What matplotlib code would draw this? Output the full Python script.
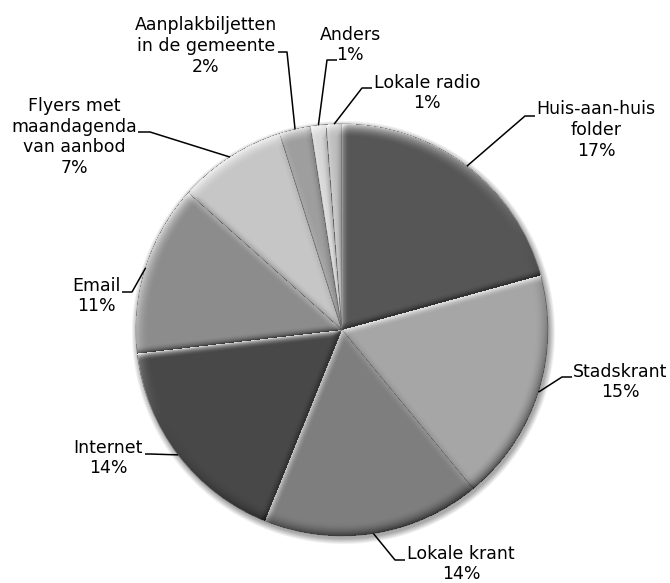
import numpy as np
import matplotlib
matplotlib.use('Agg')
import matplotlib.pyplot as plt

# --- Data ---
labels = ['Huis-aan-huis\nfolder', 'Stadskrant', 'Lokale krant', 'Internet', 'Email',
          'Flyers met\nmaandagenda\nvan aanbod', 'Aanplakbiljetten\nin de gemeente',
          'Anders', 'Lokale radio']
percentages = [17, 15, 14, 14, 11, 7, 2, 1, 1]
colors = ['#565656', '#a6a6a6', '#7e7e7e', '#484848', '#8c8c8c',
          '#c6c6c6', '#9e9e9e', '#d6d6d6', '#bdbdbd']

# --- Layout, in pixels with y measured from the top ---
W, H = 670, 583
CX, CY, R = 342, 330, 206
text_pos = [(596, 130), (620, 382), (461, 564), (108, 458), (96, 296),
            (74, 137), (206, 46), (350, 45), (427, 93)]
elbows = [((525, 116), (535, 116)), ((562, 377), (572, 377)), ((395, 560), (405, 560)),
          ((150, 454), (145, 454)), ((132, 292), (122, 292)), ((150, 132), (138, 132)),
          ((287, 52), (278, 52)), ((327, 60), (337, 60)), ((362, 88), (372, 88))]
LIGHT = np.array([-0.45, 0.89])
LIGHT = LIGHT / np.linalg.norm(LIGHT)


def fy(y):
    return H - y


fig = plt.figure(figsize=(W / 100, H / 100), dpi=100)
ax = fig.add_axes([0, 0, 1, 1])

wedges, _ = ax.pie(percentages, colors=colors, startangle=90, counterclock=False,
                   center=(CX, fy(CY)), radius=R,
                   wedgeprops=dict(edgecolor='#707070', linewidth=0.5, zorder=1))

# pixel grid for the shadow and the bevel shading
yy, xx = np.mgrid[0:H, 0:W] + 0.5
dx = xx - CX
dy = CY - yy
r = np.hypot(dx, dy)
phi = np.degrees(np.arctan2(dy, dx))

# soft grey shadow round the pie
rs = np.hypot(xx - CX - 1.5, yy - CY - 2.5)
halo = np.zeros((H, W, 4))
halo[..., :3] = 0.45
halo[..., 3] = np.where(rs > R - 4, 0.6 * np.clip(1 - (rs - R) / 6.0, 0, 1), 0)
ax.imshow(halo, extent=(0, W, 0, H), origin='upper', zorder=0, interpolation='bilinear')


def falloff(d, width):
    return np.clip(1 - d / width, 0, 1) ** 2


shade = np.zeros((H, W))
for w in wedges:
    t1, t2 = w.theta1, w.theta2
    span = t2 - t1
    rel = (phi - t1) % 360
    inside = (rel <= span) & (r <= R)
    a1, a2 = np.radians(t1), np.radians(t2)
    d1 = r * np.sin(np.radians(np.clip(rel, 0, 90)))
    d2 = r * np.sin(np.radians(np.clip(span - rel, 0, 90)))
    n1 = np.sin(a1) * LIGHT[0] - np.cos(a1) * LIGHT[1]
    n2 = -np.sin(a2) * LIGHT[0] + np.cos(a2) * LIGHT[1]
    nrim = (dx * LIGHT[0] + dy * LIGHT[1]) / np.maximum(r, 1e-6)
    s = falloff(R - r, 14) * nrim + falloff(d1, 8) * n1 + falloff(d2, 8) * n2
    shade = np.where(inside, s, shade)

bevel = np.zeros((H, W, 4))
bevel[..., :3] = np.where(shade[..., None] > 0, 1.0, 0.0)
bevel[..., 3] = np.clip(np.where(shade > 0, 0.8 * shade, -0.6 * shade), 0, 0.85)
bevel[..., 3] = np.where(r <= R, bevel[..., 3], 0)
ax.imshow(bevel, extent=(0, W, 0, H), origin='upper', zorder=2, interpolation='bilinear')

# labels with leader lines from the middle of each slice
for w, lab, pct, (tx, ty), (elb, end) in zip(wedges, labels, percentages, text_pos, elbows):
    mid = np.radians((w.theta1 + w.theta2) / 2)
    ax_, ay_ = CX + R * np.cos(mid), CY - R * np.sin(mid)
    ax.plot([ax_, elb[0], end[0]], [fy(ay_), fy(elb[1]), fy(end[1])],
            color='black', lw=1.1, zorder=3, solid_capstyle='butt')
    ax.text(tx, fy(ty), f'{lab}\n{pct}%', ha='center', va='center', multialignment='center',
            fontsize=12.5, linespacing=1.2, color='black', zorder=4)

ax.set_xlim(0, W)
ax.set_ylim(0, H)
ax.set_aspect('equal')
ax.axis('off')

fig.savefig('out.png', dpi=100, facecolor='white')
